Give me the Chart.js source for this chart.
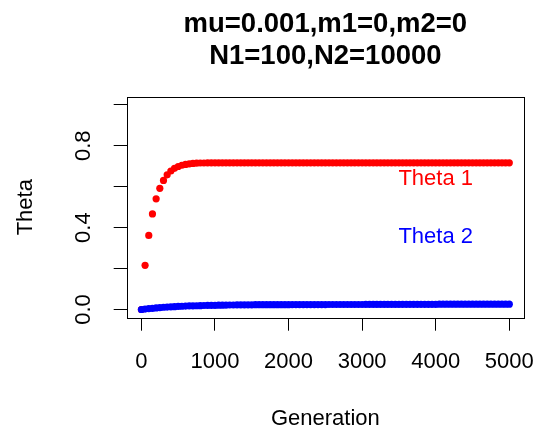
<!DOCTYPE html>
<html>
<head>
<meta charset="utf-8">
<script src="https://cdn.jsdelivr.net/npm/chart.js@4/dist/chart.umd.min.js"></script>
<style>
  html, body { margin: 0; padding: 0; background: #fff; }
  #wrap { width: 536px; height: 432px; }
</style>
</head>
<body>
<div id="wrap"><canvas id="thetaChart" width="536" height="432"></canvas></div>
<script>
// Generations sampled every 50
const generations = [
    0, 50, 100, 150, 200, 250, 300, 350, 400, 450,
    500, 550, 600, 650, 700, 750, 800, 850, 900, 950,
    1000, 1050, 1100, 1150, 1200, 1250, 1300, 1350, 1400, 1450,
    1500, 1550, 1600, 1650, 1700, 1750, 1800, 1850, 1900, 1950,
    2000, 2050, 2100, 2150, 2200, 2250, 2300, 2350, 2400, 2450,
    2500, 2550, 2600, 2650, 2700, 2750, 2800, 2850, 2900, 2950,
    3000, 3050, 3100, 3150, 3200, 3250, 3300, 3350, 3400, 3450,
    3500, 3550, 3600, 3650, 3700, 3750, 3800, 3850, 3900, 3950,
    4000, 4050, 4100, 4150, 4200, 4250, 4300, 4350, 4400, 4450,
    4500, 4550, 4600, 4650, 4700, 4750, 4800, 4850, 4900, 4950,
    5000
];

// Theta 1 (red)
const theta1 = [
    0.000, 0.216, 0.362, 0.467, 0.541, 0.592, 0.631, 0.658, 0.677, 0.690,
    0.699, 0.705, 0.709, 0.712, 0.714, 0.715, 0.716, 0.716, 0.717, 0.717,
    0.717, 0.717, 0.717, 0.717, 0.717, 0.717, 0.717, 0.717, 0.717, 0.717,
    0.717, 0.717, 0.717, 0.717, 0.717, 0.717, 0.717, 0.717, 0.717, 0.717,
    0.717, 0.717, 0.717, 0.717, 0.717, 0.717, 0.717, 0.717, 0.717, 0.717,
    0.717, 0.717, 0.717, 0.717, 0.717, 0.717, 0.717, 0.717, 0.717, 0.717,
    0.717, 0.717, 0.717, 0.717, 0.717, 0.717, 0.717, 0.717, 0.717, 0.717,
    0.717, 0.717, 0.717, 0.717, 0.717, 0.717, 0.717, 0.717, 0.717, 0.717,
    0.717, 0.717, 0.717, 0.717, 0.717, 0.717, 0.717, 0.717, 0.717, 0.717,
    0.717, 0.717, 0.717, 0.717, 0.717, 0.717, 0.717, 0.717, 0.717, 0.717,
    0.717
];

// Theta 2 (blue)
const theta2 = [
    0.000, 0.002, 0.004, 0.006, 0.008, 0.009, 0.011, 0.012, 0.013, 0.014,
    0.015, 0.016, 0.017, 0.0175, 0.018, 0.0185, 0.019, 0.0195, 0.020, 0.020,
    0.0205, 0.021, 0.021, 0.0215, 0.022, 0.022, 0.0225, 0.0225, 0.023, 0.023,
    0.023, 0.0235, 0.0235, 0.0235, 0.0235, 0.0235, 0.0235, 0.0235, 0.0235, 0.0235,
    0.0235, 0.024, 0.024, 0.024, 0.024, 0.024, 0.024, 0.024, 0.024, 0.024,
    0.024, 0.0245, 0.0245, 0.0245, 0.0245, 0.0245, 0.0245, 0.0245, 0.0245, 0.0245,
    0.0245, 0.025, 0.025, 0.025, 0.025, 0.025, 0.025, 0.025, 0.025, 0.025,
    0.025, 0.0255, 0.0255, 0.0255, 0.0255, 0.0255, 0.0255, 0.0255, 0.0255, 0.0255,
    0.0255, 0.026, 0.026, 0.026, 0.026, 0.026, 0.026, 0.026, 0.026, 0.026,
    0.026, 0.026, 0.026, 0.026, 0.026, 0.026, 0.026, 0.026, 0.026, 0.026,
    0.026
];

const xTicks = [0, 1000, 2000, 3000, 4000, 5000];
const yTicks = [0, 0.2, 0.4, 0.6, 0.8, 1.0];
const yTickLabels = ['0.0', '', '0.4', '', '0.8', ''];

const titleLines = ['mu=0.001,m1=0,m2=0', 'N1=100,N2=10000'];
const seriesNames = ['Theta 1', 'Theta 2'];
const seriesColors = ['#ff0000', '#0000ff'];
// where the R text() labels sit, in data units
const labelX = [4000, 4000];
const labelY = [0.64, 0.355];

Chart.defaults.font.family = '"Liberation Sans", Arial, Helvetica, sans-serif';
Chart.defaults.color = '#000';

const toPoints = ys => generations.map((g, i) => ({ x: g, y: ys[i] }));

// box around plot + the in-plot text labels
const boxAndLabels = {
    id: 'boxAndLabels',
    afterDatasetsDraw(chart) {
        const { ctx, chartArea, scales } = chart;
        ctx.save();
        ctx.strokeStyle = '#000';
        ctx.lineWidth = 1;
        ctx.strokeRect(Math.round(chartArea.left) + 0.5, Math.round(chartArea.top) + 0.5,
            Math.round(chartArea.width), Math.round(chartArea.height));

        ctx.font = '22px "Liberation Sans", Arial, sans-serif';
        ctx.textAlign = 'center';
        ctx.textBaseline = 'middle';
        seriesNames.forEach((name, i) => {
            ctx.fillStyle = seriesColors[i];
            ctx.fillText(name, scales.x.getPixelForValue(labelX[i]), scales.y.getPixelForValue(labelY[i]));
        });
        ctx.restore();
    }
};

const noPad = scale => {
    scale.paddingLeft = 0;
    scale.paddingRight = 0;
    scale.paddingTop = 0;
    scale.paddingBottom = 0;
};

new Chart(document.getElementById('thetaChart'), {
    type: 'scatter',
    data: {
        datasets: [
            {
                label: seriesNames[0],
                data: toPoints(theta1),
                backgroundColor: seriesColors[0],
                pointRadius: 3.6,
                pointBorderWidth: 0,
                order: 2
            },
            {
                label: seriesNames[1],
                data: toPoints(theta2),
                backgroundColor: seriesColors[1],
                pointRadius: 3.6,
                pointBorderWidth: 0,
                order: 1
            }
        ]
    },
    options: {
        responsive: false,
        devicePixelRatio: 1,
        animation: false,
        layout: { padding: { left: 0, right: 12, top: 0, bottom: 0 } },
        plugins: {
            legend: { display: false },
            tooltip: { enabled: false },
            title: {
                display: true,
                fullSize: false,
                text: titleLines,
                color: '#000',
                font: { size: 27.5, weight: 'bold', lineHeight: '32px' },
                padding: { top: 8.5, bottom: 24.2 }
            }
        },
        scales: {
            x: {
                type: 'linear',
                min: -200,
                max: 5200,
                afterBuildTicks: scale => { scale.ticks = xTicks.map(v => ({ value: v })); },
                afterFit: scale => { scale.height = 114.3; noPad(scale); },
                grid: { drawOnChartArea: false, drawTicks: true, tickLength: 13, color: '#000', lineWidth: 1 },
                border: { display: false },
                ticks: {
                    autoSkip: false,
                    maxRotation: 0,
                    padding: 17.8,
                    font: { size: 22 },
                    color: '#000',
                    callback: value => String(value)
                },
                title: { display: true, text: 'Generation', font: { size: 22 }, color: '#000', padding: { top: 0, bottom: 0 } }
            },
            y: {
                min: -0.04,
                max: 1.04,
                afterBuildTicks: scale => { scale.ticks = yTicks.map(v => ({ value: v })); },
                afterFit: scale => { scale.width = 126.7; noPad(scale); },
                grid: { drawOnChartArea: false, drawTicks: true, tickLength: 13, color: '#000', lineWidth: 1 },
                border: { display: false },
                ticks: {
                    autoSkip: false,
                    minRotation: 90,
                    maxRotation: 90,
                    crossAlign: 'center',
                    padding: 14.7,
                    font: { size: 22 },
                    color: '#000',
                    callback: (value, index) => yTickLabels[index]
                },
                title: { display: true, text: 'Theta', font: { size: 22 }, color: '#000', padding: { top: 13, bottom: 0 } }
            }
        }
    },
    plugins: [boxAndLabels]
});
</script>
</body>
</html>
